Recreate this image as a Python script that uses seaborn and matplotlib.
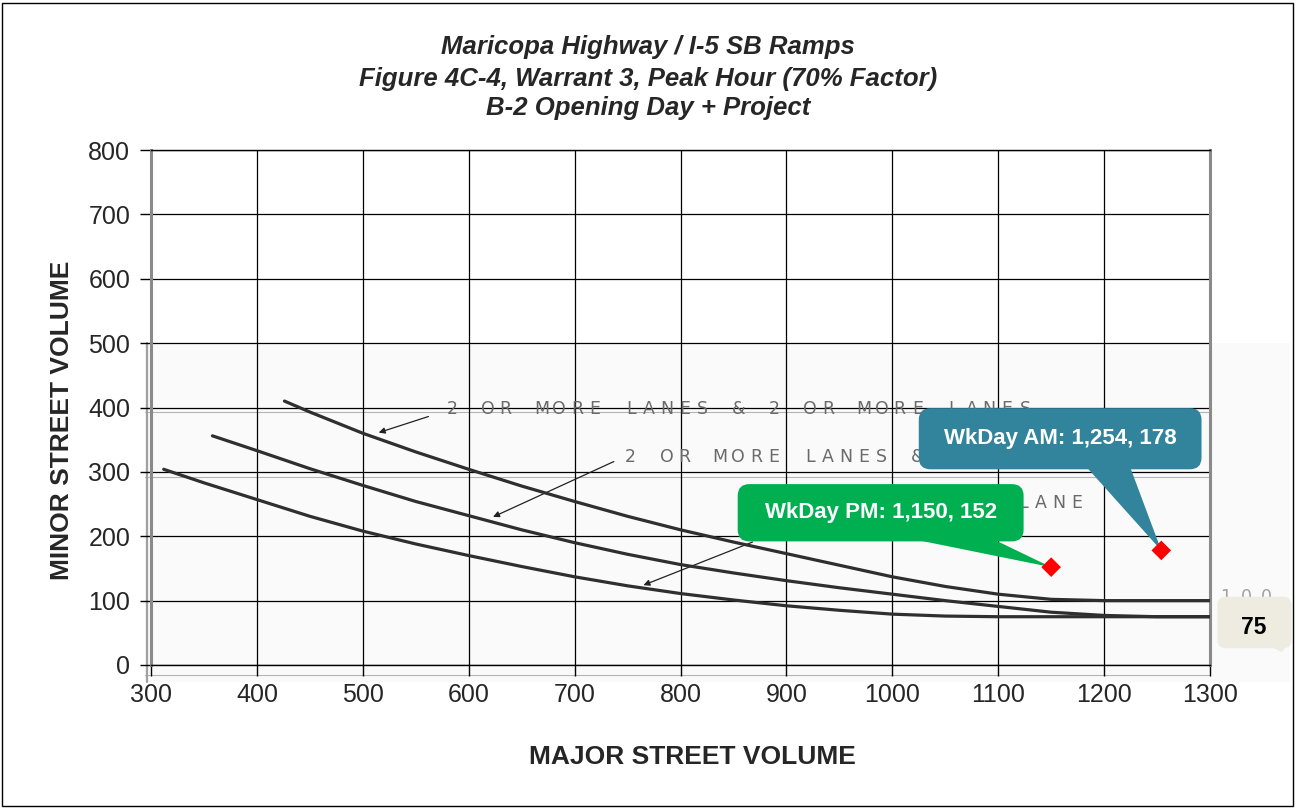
import numpy as np
import pandas as pd
import matplotlib
matplotlib.use("Agg")
import matplotlib.pyplot as plt
import seaborn as sns
from matplotlib.patches import FancyBboxPatch, Polygon, Rectangle
from matplotlib.lines import Line2D

# Warrant 3 (70% factor) threshold curves: major street vs minor street volume
major_2x2 = [426, 450, 500, 550, 600, 650, 700, 750, 800, 850, 900, 950, 1000, 1050, 1100, 1150, 1200, 1300]
minor_2x2 = [410, 393, 360, 331, 304, 278, 254, 231, 210, 191, 173, 155, 137, 122, 110, 102, 100, 100]

major_2x1 = [358, 400, 450, 500, 550, 600, 650, 700, 750, 800, 850, 900, 950, 1000, 1050, 1100, 1150, 1200, 1250, 1300]
minor_2x1 = [356, 333, 305, 279, 254, 232, 210, 190, 172, 156, 143, 131, 120, 110, 100, 91, 82, 77, 75, 75]

major_1x1 = [312, 350, 400, 450, 500, 550, 600, 650, 700, 750, 800, 850, 900, 950, 1000, 1050, 1100, 1300]
minor_1x1 = [304, 283, 257, 231, 208, 188, 170, 153, 137, 123, 111, 101, 92, 85, 79, 76, 75, 75]

curve_labels = ["2 OR MORE LANES & 2 OR MORE LANES", "2 OR MORE LANES & 1 LANE", "1 LANE & 1 LANE"]

# Intersection volumes
point_names = ["WkDay PM", "WkDay AM"]
point_major = [1150, 1254]
point_minor = [152, 178]

x_ticks = list(range(300, 1301, 100))
y_ticks = list(range(0, 801, 100))

title_lines = ["Maricopa Highway / I-5 SB Ramps",
               "Figure 4C-4, Warrant 3, Peak Hour (70% Factor)",
               "B-2 Opening Day + Project"]

sns.set_theme(style="white")
plt.rcParams["font.family"] = ["Liberation Sans", "DejaVu Sans"]

W, H = 1296, 808
fig = plt.figure(figsize=(W / 100, H / 100), dpi=100)
ax = fig.add_axes([151 / W, 1 - 665 / H, (1210 - 151) / W, (665 - 150) / H])
ax.set_zorder(1)
ax.patch.set_alpha(0)

# scanned chart panel behind the plot
fig.patches.append(Rectangle((145 / W, 1 - 682 / H), (1290 - 145) / W, (682 - 343) / H,
                             transform=fig.transFigure, facecolor="#fafafa",
                             edgecolor="none", zorder=-2))
for py in (412, 477, 675):
    fig.lines.append(Line2D([145 / W, 1210 / W], [1 - py / H] * 2, transform=fig.transFigure,
                            color="#b4b4b4", lw=0.8, zorder=-1))
fig.lines.append(Line2D([147 / W] * 2, [1 - 682 / H, 1 - 343 / H], transform=fig.transFigure,
                        color="#a0a0a0", lw=1.6, zorder=-1))

curves = pd.concat([
    pd.DataFrame({"major": major_2x2, "minor": minor_2x2, "curve": curve_labels[0]}),
    pd.DataFrame({"major": major_2x1, "minor": minor_2x1, "curve": curve_labels[1]}),
    pd.DataFrame({"major": major_1x1, "minor": minor_1x1, "curve": curve_labels[2]}),
])
for name, grp in curves.groupby("curve", sort=False):
    sns.lineplot(data=grp, x="major", y="minor", ax=ax, color="#2f2f2f", lw=2.3,
                 estimator=None, sort=False, zorder=3)

# letter-spaced captions of the scanned chart
def spaced_label(text, x, y, step_pt=12.9, color="#6a6a6a", zorder=2.5):
    for i, ch in enumerate(text):
        if ch == " ":
            continue
        ax.annotate(ch, xy=(x, y), xytext=(i * step_pt, 0), textcoords="offset points",
                    ha="center", va="center", fontsize=12.5, color=color,
                    family="DejaVu Sans", zorder=zorder, annotation_clip=False)

spaced_label(curve_labels[0], 584, 397)
spaced_label(curve_labels[1], 753, 323)
spaced_label(curve_labels[2], 937, 252)
spaced_label(str(minor_2x2[-1]), 1315, 106, step_pt=14.5, color="#a0a0a0", zorder=2)

arrow_kw = dict(arrowstyle="-|>", lw=0.9, color="#222222", mutation_scale=9,
                shrinkA=0, shrinkB=0)
ax.annotate("", xy=(515, 361), xytext=(562, 386), arrowprops=arrow_kw, zorder=2.5)
ax.annotate("", xy=(623, 230), xytext=(737, 316), arrowprops=arrow_kw, zorder=2.5)
ax.annotate("", xy=(765, 124), xytext=(868, 191), arrowprops=arrow_kw, zorder=2.5)

# callouts
aspect = (1059 / 1000) / (515 / 800)

def callout(x0, x1, y0, y1, base, tip, color, text, text_color="white"):
    ax.add_patch(Polygon([(base[0], y0 + 6), (base[1], y0 + 6), tip], closed=True,
                         facecolor=color, edgecolor="none", zorder=5, clip_on=False))
    ax.add_patch(FancyBboxPatch((x0, y0), x1 - x0, y1 - y0,
                                boxstyle="round,pad=0,rounding_size=11",
                                mutation_aspect=aspect, facecolor=color,
                                edgecolor="none", zorder=5, clip_on=False))
    ax.text((x0 + x1) / 2, (y0 + y1) / 2, text, ha="center", va="center",
            fontsize=16, fontweight="bold", color=text_color,
            zorder=6, clip_on=False)

pm_i, am_i = 0, 1
callout(854, 1124, 192, 281, (1012, 1092), (point_major[pm_i], point_minor[pm_i]),
        "#00B050", f"{point_names[pm_i]}: {point_major[pm_i]:,}, {point_minor[pm_i]}")
callout(1025, 1292, 304, 399, (1182, 1224), (point_major[am_i], point_minor[am_i]),
        "#31849B", f"{point_names[am_i]}: {point_major[am_i]:,}, {point_minor[am_i]}")

# floor value tag beside the plot
ax.add_patch(Polygon([(1355, 30), (1372, 30), (1368, 20)], closed=True,
                     facecolor="#EEECE1", edgecolor="none", zorder=5, clip_on=False))
ax.add_patch(FancyBboxPatch((1307, 26), 70, 80, boxstyle="round,pad=0,rounding_size=8",
                            mutation_aspect=aspect, facecolor="#EEECE1",
                            edgecolor="none", zorder=5, clip_on=False))
ax.text(1341, 58, str(minor_1x1[-1]), ha="center", va="center", fontsize=16.5,
        fontweight="bold", color="black", zorder=6, clip_on=False)

sns.scatterplot(x=point_major, y=point_minor, ax=ax, marker="D", s=100, color="#FF0000",
                edgecolor="none", zorder=7, clip_on=False)

ax.set_xlim(300, 1300)
ax.set_ylim(0, 800)
ax.set_xticks(x_ticks)
ax.set_yticks(y_ticks)
ax.grid(True, color="black", lw=0.9)
ax.set_axisbelow(True)
ax.tick_params(direction="out", length=8, width=1, color="black", labelsize=18,
               left=True, bottom=True)
ax.tick_params(axis="y", pad=7)
ax.tick_params(axis="x", pad=5)
ax.set_xlabel("")
ax.set_ylabel("")
for side in ("left", "right"):
    ax.spines[side].set_color("#8a8a8a")
    ax.spines[side].set_linewidth(2.2)
for side in ("top", "bottom"):
    ax.spines[side].set_color("black")
    ax.spines[side].set_linewidth(1)

fig.text(692 / W, 1 - 757 / H, "MAJOR STREET VOLUME", ha="center", va="center",
         fontsize=19, fontweight="bold")
fig.text(62 / W, 1 - 420 / H, "MINOR STREET VOLUME", ha="center", va="center",
         fontsize=19, fontweight="bold", rotation=90)

for yy, line in zip((47, 79, 108), title_lines):
    fig.text(0.5, 1 - yy / H, line, ha="center", va="center", fontsize=18.5,
             fontweight="bold", style="italic")

fig.patches.append(Rectangle((2 / W, 2 / H), (W - 5) / W, (H - 5) / H,
                             transform=fig.transFigure, facecolor="none",
                             edgecolor="black", lw=1, zorder=10))

fig.savefig("out.png", dpi=100)
